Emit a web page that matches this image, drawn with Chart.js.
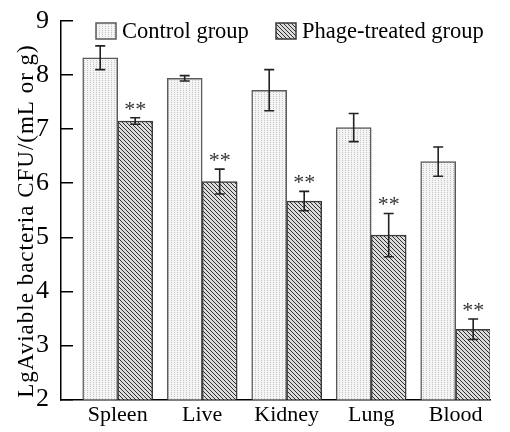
<!DOCTYPE html>
<html>
<head>
<meta charset="utf-8">
<script src="https://cdn.jsdelivr.net/npm/chart.js@4.4.0/dist/chart.umd.min.js"></script>
<style>
  html, body { margin: 0; padding: 0; background: #fff; }
  #wrap { width: 510px; height: 432px; }
</style>
</head>
<body>
<div id="wrap"><canvas id="chart" width="510" height="432"></canvas></div>
<script>
// data
const organs = ['Spleen', 'Live', 'Kidney', 'Lung', 'Blood'];
const controlMean = [8.32, 7.94, 7.72, 7.03, 6.40];
const controlSd = [0.22, 0.05, 0.38, 0.26, 0.27];
const phageMean = [7.15, 6.03, 5.67, 5.04, 3.30];
const phageSd = [0.06, 0.23, 0.18, 0.40, 0.19];
const phageMarks = ['**', '**', '**', '**', '**'];
const yTicks = [2, 3, 4, 5, 6, 7, 8, 9];
const yTitle = 'LgAviable bacteria CFU/(mL or g)';

const serif = '"Liberation Serif", "Times New Roman", serif';

function makePattern(w, h, bg, fg, pixels) {
    let c = document.createElement('canvas');
    c.width = w; c.height = h;
    let g = c.getContext('2d');
    g.fillStyle = bg;
    g.fillRect(0, 0, w, h);
    g.fillStyle = fg;
    pixels.forEach(p => g.fillRect(p[0], p[1], 1, 1));
    return document.getElementById('chart').getContext('2d').createPattern(c, 'repeat');
}

// light dotted vertical stripes / dark "\" hatching
let dotted = makePattern(3, 2, '#f4f4f4', '#c4c4c4', [[0, 0]]);
let hatched = makePattern(4, 4, '#dcdcdc', '#2e2e2e', [[0, 0], [1, 1], [2, 2], [3, 3]]);

let errorBars = {
    id: 'errorBars',
    afterDatasetsDraw(chart) {
        let ctx = chart.ctx;
        let y = chart.scales.y;
        ctx.save();
        ctx.strokeStyle = '#222';
        ctx.lineWidth = 1.6;
        chart.data.datasets.forEach((ds, di) => {
            let meta = chart.getDatasetMeta(di);
            meta.data.forEach((bar, i) => {
                let v = ds.data[i].y;
                let top = y.getPixelForValue(v + ds.sd[i]);
                let bot = y.getPixelForValue(v - ds.sd[i]);
                ctx.beginPath();
                ctx.moveTo(bar.x, top); ctx.lineTo(bar.x, bot);
                ctx.moveTo(bar.x - 5, top); ctx.lineTo(bar.x + 5, top);
                ctx.moveTo(bar.x - 5, bot); ctx.lineTo(bar.x + 5, bot);
                ctx.stroke();
                if (ds.marks) {
                    ctx.fillStyle = '#333';
                    ctx.font = '22px ' + serif;
                    ctx.textAlign = 'center';
                    ctx.textBaseline = 'middle';
                    ctx.fillText(ds.marks[i], bar.x, top - 8);
                }
            });
        });
        ctx.restore();
    }
};

// legend inside the plot at the top, y title along the axis
let extraText = {
    id: 'extraText',
    afterDraw(chart) {
        let ctx = chart.ctx;
        let spots = [96, 276];
        ctx.save();
        ctx.font = '22.5px ' + serif;
        ctx.textBaseline = 'alphabetic';
        ctx.textAlign = 'left';
        chart.data.datasets.forEach((ds, i) => {
            let x = spots[i];
            ctx.fillStyle = ds.backgroundColor;
            ctx.fillRect(x, 23, 20, 16);
            ctx.strokeStyle = ds.borderColor;
            ctx.lineWidth = 1.5;
            ctx.strokeRect(x, 23, 20, 16);
            ctx.fillStyle = '#000';
            ctx.fillText(ds.label, x + 26, 38);
        });
        ctx.restore();

        ctx.save();
        ctx.translate(27, 221);
        ctx.rotate(-Math.PI / 2);
        ctx.font = '23px ' + serif;
        ctx.letterSpacing = '1px';
        ctx.fillStyle = '#000';
        ctx.textAlign = 'center';
        ctx.textBaseline = 'middle';
        ctx.fillText(yTitle, 0, 0);
        ctx.restore();
    }
};

let ctx = document.getElementById('chart').getContext('2d');
let chart = new Chart(ctx, {
    type: 'bar',
    data: {
        datasets: [{
            label: 'Control group',
            data: controlMean.map((v, i) => ({ x: i + 1, y: v })),
            sd: controlSd,
            backgroundColor: dotted,
            borderColor: '#5a5a5a',
            borderWidth: 1.5,
            barThickness: 35
        }, {
            label: 'Phage-treated group',
            data: phageMean.map((v, i) => ({ x: i + 1, y: v })),
            sd: phageSd,
            marks: phageMarks,
            backgroundColor: hatched,
            borderColor: '#3a3a3a',
            borderWidth: 1.5,
            barThickness: 35
        }]
    },
    options: {
        responsive: false,
        animation: false,
        layout: { padding: { top: 21, right: 20, left: 0, bottom: 0 } },
        scales: {
            x: {
                type: 'linear',
                offset: false,
                min: 0.329,
                max: 5.406,
                afterBuildTicks: s => { s.ticks = organs.map((o, i) => ({ value: i + 1 })); },
                afterFit: s => { s.height = 32.5; },
                grid: { display: true, drawOnChartArea: false, drawTicks: false },
                border: { display: true, color: '#000', width: 1.5 },
                ticks: {
                    autoSkip: false,
                    maxRotation: 0,
                    padding: 3,
                    color: '#000',
                    font: { family: serif, size: 22 },
                    callback: v => organs[v - 1]
                }
            },
            y: {
                min: 2,
                max: 9,
                afterBuildTicks: s => { s.ticks = yTicks.map(v => ({ value: v })); },
                afterFit: s => { s.width = 61; s.paddingTop = 0; s.paddingBottom = 0; },
                grid: { drawOnChartArea: false, drawTicks: true, tickLength: -12, color: '#000', lineWidth: 1.5 },
                border: { display: true, color: '#000', width: 1.5 },
                ticks: {
                    padding: 24,
                    color: '#000',
                    font: { family: serif, size: 26 }
                }
            }
        },
        plugins: {
            legend: { display: false },
            tooltip: { enabled: false }
        }
    },
    plugins: [errorBars, extraText]
});
</script>
</body>
</html>
